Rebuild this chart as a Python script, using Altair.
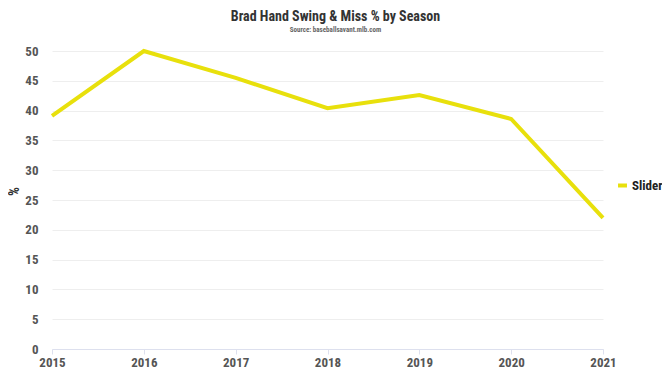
import altair as alt
import pandas as pd

seasons = [2015, 2016, 2017, 2018, 2019, 2020, 2021]
slider = [39.1, 50.0, 45.5, 40.4, 42.6, 38.6, 22.0]
series_name = "Slider"

df = pd.DataFrame({"Season": seasons, "Value": slider, "Pitch": [series_name] * len(seasons)})

FONT = "Roboto Condensed, Liberation Sans Narrow, Roboto, sans-serif"

chart = alt.Chart(df).mark_line(strokeWidth=4, color="#e8e00c").encode(
    x=alt.X("Season:O", scale=alt.Scale(padding=0),
            axis=alt.Axis(title=None, labelAngle=0, labelFont=FONT, labelFontWeight="bold",
                          labelFontSize=13, labelColor="#555", domainColor="#dde0ee",
                          tickColor="#dde0ee", tickSize=5, labelPadding=2, grid=False)),
    y=alt.Y("Value:Q", scale=alt.Scale(domain=[0, 50], nice=False),
            axis=alt.Axis(title="%", titleFont=FONT, titleFontSize=14, titleColor="#333",
                          titleFontWeight="bold", titlePadding=3, titleY=140,
                          values=list(range(0, 51, 5)), labelFont=FONT, labelFontWeight="bold",
                          labelFontSize=13, labelColor="#555", domain=False, ticks=False,
                          gridColor="#eeeeee", labelPadding=14)),
    stroke=alt.Stroke("Pitch:N", scale=alt.Scale(range=["#e8e00c"]),
                      legend=alt.Legend(title=None, orient="none", legendX=564, legendY=128,
                                        labelFont=FONT, labelFontSize=13, labelFontWeight="bold",
                                        labelColor="#222", symbolType="stroke", symbolStrokeWidth=4,
                                        symbolSize=80, labelOffset=3)),
).properties(
    width=551, height=298,
    padding={"left": 44, "top": 43, "right": 59, "bottom": 20},
    autosize=alt.AutoSizeParams(type="none"),
    title=alt.TitleParams("Brad Hand Swing & Miss % by Season",
                          subtitle="Source: baseballsavant.mlb.com",
                          font=FONT, fontSize=14, fontWeight="bold", color="#333",
                          subtitleFont=FONT, subtitleFontSize=7, subtitleColor="#666",
                          subtitleFontWeight="bold",
                          anchor="middle", dx=8, offset=10, subtitlePadding=2),
).configure_view(stroke=None)

chart.save("out.html", embed_options={"renderer": "svg", "actions": False})
